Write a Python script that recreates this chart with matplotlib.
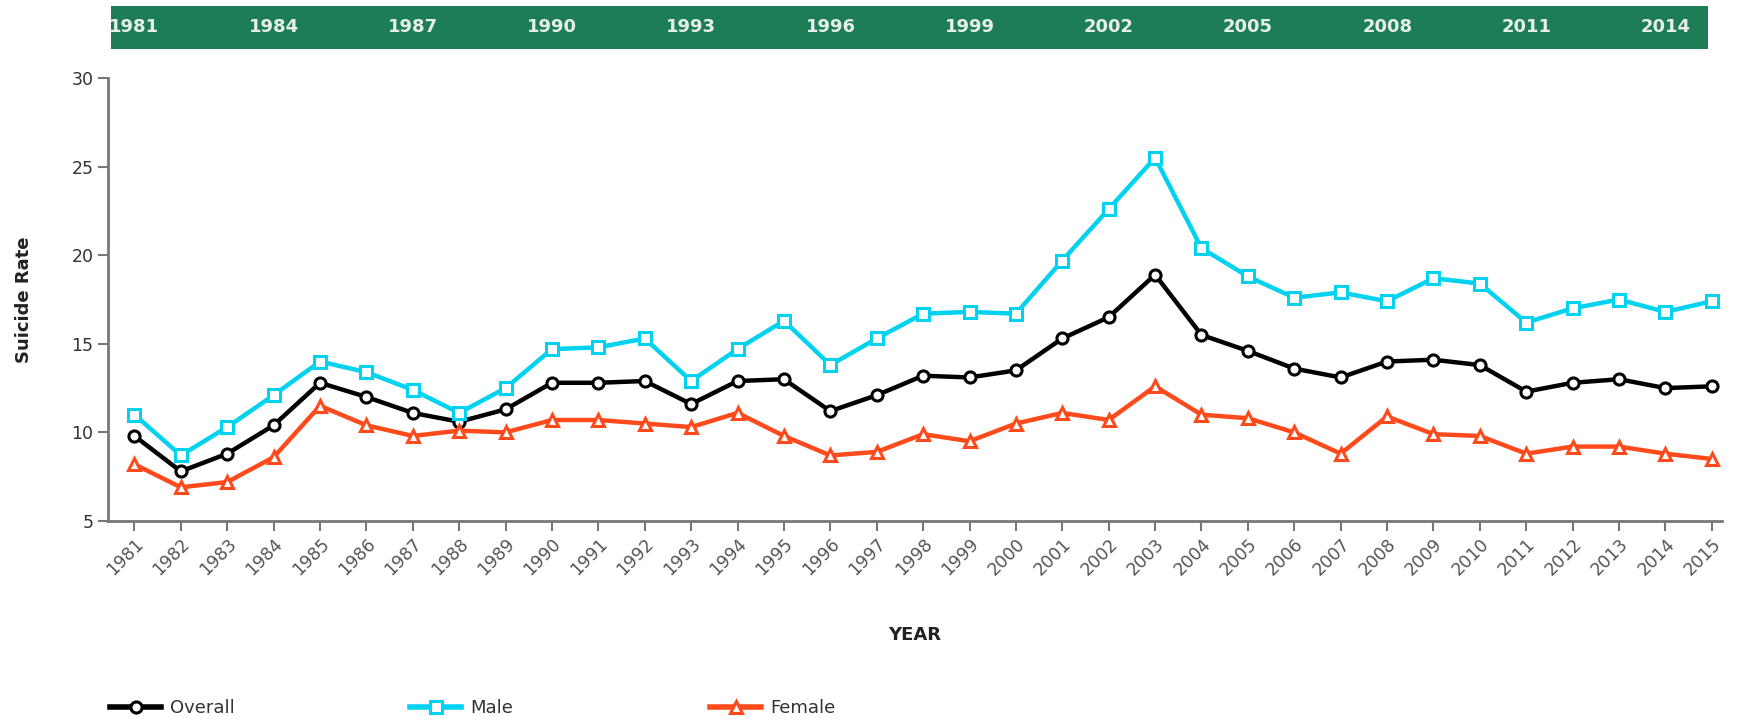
import matplotlib
matplotlib.use("Agg")
import matplotlib.pyplot as plt
from matplotlib.lines import Line2D

years = list(range(1981, 2016))
overall = [9.8, 7.8, 8.8, 10.4, 12.8, 12.0, 11.1, 10.6, 11.3, 12.8, 12.8, 12.9, 11.6, 12.9, 13.0,
           11.2, 12.1, 13.2, 13.1, 13.5, 15.3, 16.5, 18.9, 15.5, 14.6, 13.6, 13.1, 14.0, 14.1, 13.8,
           12.3, 12.8, 13.0, 12.5, 12.6]
male = [11.0, 8.7, 10.3, 12.1, 14.0, 13.4, 12.4, 11.1, 12.5, 14.7, 14.8, 15.3, 12.9, 14.7, 16.3,
        13.8, 15.3, 16.7, 16.8, 16.7, 19.7, 22.6, 25.5, 20.4, 18.8, 17.6, 17.9, 17.4, 18.7, 18.4,
        16.2, 17.0, 17.5, 16.8, 17.4]
female = [8.2, 6.9, 7.2, 8.6, 11.5, 10.4, 9.8, 10.1, 10.0, 10.7, 10.7, 10.5, 10.3, 11.1, 9.8,
          8.7, 8.9, 9.9, 9.5, 10.5, 11.1, 10.7, 12.6, 11.0, 10.8, 10.0, 8.8, 10.9, 9.9, 9.8,
          8.8, 9.2, 9.2, 8.8, 8.5]
banner_years = list(range(1981, 2015, 3))
yticks = [5, 10, 15, 20, 25, 30]

plt.rcParams['font.family'] = ['DejaVu Sans']

W, H = 1742, 723
fig = plt.figure(figsize=(W / 100, H / 100), dpi=100)

# main axes (pixel layout)
ax_l, ax_r = 108, 1722
ax_t, ax_b = 78, 521
ax = fig.add_axes([ax_l / W, 1 - ax_b / H, (ax_r - ax_l) / W, (ax_b - ax_t) / H])

series = [
    ("Overall", overall, "#000000", "o"),
    ("Male", male, "#00d2f0", "s"),
    ("Female", female, "#ff4a1c", "^"),
]
handles = []
for name, vals, col, mk in series:
    ax.plot(years, vals, color=col, lw=3.2, marker=mk, ms=8, mfc="white", mec=col, mew=2.2,
            zorder=3)
    handles.append(Line2D([], [], color=col, lw=4, marker=mk, ms=8, mfc="white", mec=col,
                          mew=2.2))

ax.set_xlim(1980.43, 2015.22)
ax.set_ylim(5, 30)
ax.set_yticks(yticks)
ax.set_xticks(years)
ax.set_xticklabels([str(y) for y in years], rotation=45, ha="right", rotation_mode="anchor",
                   fontsize=12.5, color="#555555")
ax.tick_params(axis="y", labelsize=12.5, labelcolor="#333333", length=7, color="#777777", width=1.5)
ax.tick_params(axis="x", length=7, color="#777777", width=1.5, pad=3)
for s in ["top", "right"]:
    ax.spines[s].set_visible(False)
for s in ["left", "bottom"]:
    ax.spines[s].set_color("#777777")
    ax.spines[s].set_linewidth(2)
ax.set_ylabel("Suicide Rate", fontsize=13, fontweight="bold", color="#222222", labelpad=28)
ax.set_xlabel("YEAR", fontsize=13, fontweight="bold", color="#222222", labelpad=34)

# banner
b_l, b_r, b_t, b_b = 111, 1708, 6, 49
bax = fig.add_axes([b_l / W, 1 - b_b / H, (b_r - b_l) / W, (b_b - b_t) / H])
bax.set_facecolor("#1d7d56")
bax.set_xlim(1980.497, 2014.91)
bax.set_ylim(0, 1)
for s in bax.spines.values():
    s.set_visible(False)
bax.set_xticks([])
bax.set_yticks([])
for y in banner_years:
    bax.text(y, 0.5, str(y), ha="center", va="center", color="#e6efe9", fontsize=13,
             fontweight="bold", clip_on=True)

# legend: three fixed-width slots
slot_x = [103, 403, 703]
for (name, *_), h, x in zip(series, handles, slot_x):
    fig.legend([h], [name], loc="center left", bbox_to_anchor=(x / W, 1 - 708 / H),
               frameon=False, fontsize=13, handlelength=2.8, labelcolor="#333333",
               borderaxespad=0, handletextpad=0.5)

fig.savefig("out.png", dpi=100, facecolor="white")
